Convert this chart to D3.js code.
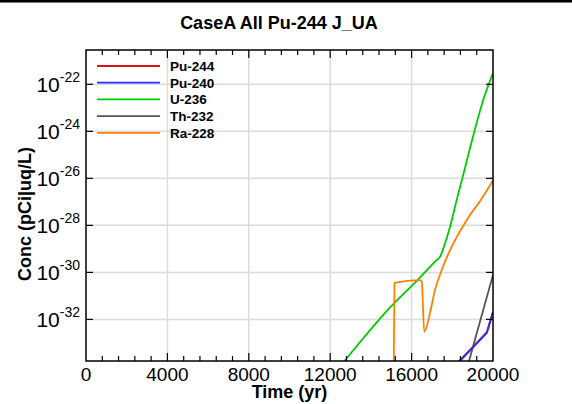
<!DOCTYPE html>
<html><head><meta charset="utf-8">
<script src="https://cdn.jsdelivr.net/npm/d3@7"></script>
<style>
body{margin:0;background:#fff;}
svg{display:block;font-family:"Liberation Sans",Arial,sans-serif;}
</style></head>
<body>
<svg id="chart" width="572" height="404"></svg>
<script>
// ---- data ----
const seriesNames = ["Pu-244","Pu-240","U-236","Th-232","Ra-228"];
const seriesColors = ["#e01010","#2a2aff","#00cc00","#555555","#ff8000"];
const timePu244 = [18200, 19700, 20000];
const concPu244 = [1.26e-34, 2.9e-33, 2.1e-32];
const timePu240 = [18200, 19700, 20000];
const concPu240 = [1.17e-34, 2.7e-33, 2.0e-32];
const timeU236 = [12000, 12700, 14900, 16400, 17200, 17400, 17600, 17900, 18200, 18500, 19100, 19500, 20000];
const concU236 = [3.1e-35, 1.7e-34, 2.95e-32, 5.9e-31, 3.16e-30, 4.7e-30, 1.32e-29, 9.3e-29, 1.05e-27, 1.05e-26, 1.12e-24, 1.9e-23, 3.0e-22];
const timeTh232 = [18600, 20000];
const concTh232 = [3.5e-35, 7.8e-31];
const timeRa228 = [15100, 15160, 16400, 16500, 16620, 16900, 17150, 17480, 17890, 18050, 18710, 19450, 20000];
const concRa228 = [1e-36, 3.55e-31, 4.7e-31, 4.0e-31, 2.95e-33, 1.8e-32, 1.8e-31, 1.26e-30, 8.9e-30, 1.7e-29, 1.7e-28, 1.4e-27, 8.1e-27];
const xTicks = [0, 4000, 8000, 12000, 16000, 20000];
const yTickExps = [-22, -24, -26, -28, -30, -32];
const titleText = "CaseA All Pu-244 J_UA";
const xLabel = "Time (yr)";
const yLabel = "Conc (pCi|uq/L)";

// ---- layout ----
const L = 86, R = 493, T = 50, B = 361;
const svg = d3.select("#chart");
const x = d3.scaleLinear().domain([0, 20000]).range([L, R]);
const y = d3.scaleLog().domain([Math.pow(10,-33.77), Math.pow(10,-20.54)]).range([B, T]);

svg.append("rect").attr("x",0).attr("y",0).attr("width",572).attr("height",2.5).attr("fill","#000");

// grid
const grid = svg.append("g");
xTicks.slice(1,-1).forEach(t => {
  grid.append("line").attr("x1",x(t)).attr("x2",x(t)).attr("y1",T).attr("y2",B)
    .attr("stroke","#dcdcdc").attr("stroke-width",1.5);
});
yTickExps.forEach(e => {
  grid.append("line").attr("x1",L).attr("x2",R).attr("y1",y(Math.pow(10,e))).attr("y2",y(Math.pow(10,e)))
    .attr("stroke","#dcdcdc").attr("stroke-width",1.5);
});

// lines
svg.append("clipPath").attr("id","clip").append("rect").attr("x",L).attr("y",T).attr("width",R-L).attr("height",B-T);
const series = [
  {t: timePu244, c: concPu244, smooth: false},
  {t: timePu240, c: concPu240, smooth: false},
  {t: timeU236, c: concU236, smooth: true},
  {t: timeTh232, c: concTh232, smooth: false},
  {t: timeRa228, c: concRa228, smooth: true}
];
const lineSmooth = d3.line().x(d => x(d[0])).y(d => y(d[1])).curve(d3.curveMonotoneX);
const lineStraight = d3.line().x(d => x(d[0])).y(d => y(d[1]));
const drawOrder = [2, 4, 3, 0, 1];
drawOrder.forEach(i => {
  const pts = series[i].t.map((t,j) => [t, series[i].c[j]]);
  const gen = series[i].smooth ? lineSmooth : lineStraight;
  svg.append("path").attr("clip-path","url(#clip)").attr("d", gen(pts))
    .attr("fill","none").attr("stroke", seriesColors[i]).attr("stroke-width",1.8)
    .attr("stroke-linejoin","round");
});

// frame
svg.append("rect").attr("x",L).attr("y",T).attr("width",R-L).attr("height",B-T)
  .attr("fill","none").attr("stroke","#000").attr("stroke-width",1.5);

// x ticks (inward, top and bottom)
const xMinor = d3.range(0, 20001, 800);
const tk = svg.append("g").attr("stroke","#000").attr("stroke-width",1.2);
xMinor.forEach(t => {
  const major = t % 4000 === 0;
  const len = major ? 8 : 5;
  if (t === 0 || t === 20000) return;
  tk.append("line").attr("x1",x(t)).attr("x2",x(t)).attr("y1",B).attr("y2",B-len);
  tk.append("line").attr("x1",x(t)).attr("x2",x(t)).attr("y1",T).attr("y2",T+len);
});
yTickExps.forEach(e => {
  const yy = y(Math.pow(10,e));
  tk.append("line").attr("x1",L).attr("x2",L+7).attr("y1",yy).attr("y2",yy);
  tk.append("line").attr("x1",R).attr("x2",R-7).attr("y1",yy).attr("y2",yy);
});

// x tick labels
xTicks.forEach(t => {
  svg.append("text").attr("x",x(t)).attr("y",381).attr("text-anchor","middle")
    .attr("font-size",19).attr("fill","#000").text(t);
});
// y tick labels
yTickExps.forEach(e => {
  const yy = y(Math.pow(10,e));
  const g = svg.append("text").attr("x",80).attr("y",yy+8).attr("text-anchor","end").attr("fill","#000");
  g.append("tspan").attr("font-size",21).text("10");
  g.append("tspan").attr("font-size",14).attr("dy",-10).text(String(e));
});

// titles
svg.append("text").attr("x",279).attr("y",29).attr("text-anchor","middle")
  .attr("font-size",18).attr("font-weight","bold").text(titleText);
svg.append("text").attr("x",(L+R)/2).attr("y",398).attr("text-anchor","middle")
  .attr("font-size",18).attr("font-weight","bold").text(xLabel);
svg.append("text").attr("transform","translate(31,214) rotate(-90)").attr("text-anchor","middle")
  .attr("font-size",18).attr("font-weight","bold").text(yLabel);

// legend
seriesNames.forEach((n,i) => {
  const yy = 66 + i*16.7;
  svg.append("line").attr("x1",97).attr("x2",160).attr("y1",yy).attr("y2",yy)
    .attr("stroke",seriesColors[i]).attr("stroke-width",1.8);
  svg.append("text").attr("x",170).attr("y",yy+5).attr("font-size",13.5)
    .attr("font-weight","bold").attr("fill","#000").text(n);
});
</script>
</body></html>
